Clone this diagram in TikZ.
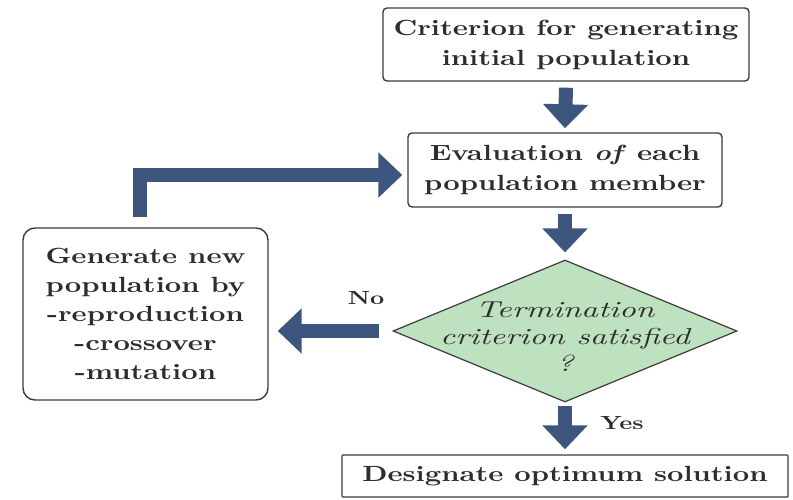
\documentclass[tikz,border=0pt]{standalone}
\usepackage{fontspec}
\usetikzlibrary{arrows.meta,shapes.geometric}
% widened Latin Modern faces
\newfontfamily\lmwide{lmroman10-regular.otf}[BoldFont=lmroman10-bold.otf, ItalicFont=lmroman10-italic.otf, BoldItalicFont=lmroman10-bolditalic.otf, FakeStretch=1.30]
\newfontfamily\lmwideit{lmroman10-regular.otf}[BoldFont=lmroman10-bold.otf, ItalicFont=lmroman10-italic.otf, FakeStretch=1.43]
\definecolor{arrowblue}{RGB}{62,86,126}
\definecolor{boxedge}{RGB}{60,60,60}
\definecolor{inkgray}{RGB}{45,45,45}
\definecolor{mint}{RGB}{190,225,192}
\tikzset{
  procbox/.style={draw=boxedge, line width=1.4pt, fill=white, rounded corners=4pt,
    text=inkgray, align=center, inner sep=0pt,
    font=\lmwide\fontsize{22}{30}\selectfont\bfseries},
  decision/.style={diamond, draw=boxedge, line width=1.2pt, fill=mint,
    inner sep=0pt, aspect=2.4},
  decisiontext/.style={text=inkgray, align=center, inner sep=0pt,
    font=\lmwideit\fontsize{23}{27}\selectfont\itshape},
  blockarrow/.style={draw=arrowblue, line width=14pt, line cap=butt,
    -{Triangle[width=44pt,length=24pt,fill=arrowblue]}},
  tag/.style={text=inkgray, font=\lmwide\fontsize{19}{24}\selectfont\bfseries}
}
\begin{document}
\begin{tikzpicture}[x=1pt,y=-1pt]
\useasboundingbox (0,0) rectangle (793,500);
% process boxes
\node[procbox, minimum width=366pt, minimum height=73pt] (init) at (566,44.5)
  {Criterion for generating\\initial population};
\node[procbox, minimum width=314pt, minimum height=74pt] (eval) at (565,170)
  {Evaluation \textit{of} each\\population member};
\node[procbox, rounded corners=12pt, minimum width=245pt, minimum height=172pt,
  font=\lmwide\fontsize{22}{29}\selectfont\bfseries] (gen) at (145.5,314)
  {Generate new\\population by\\-reproduction\\-crossover\\-mutation};
% decision diamond, with its text set on top
\node[decision, minimum width=344pt, minimum height=142pt] (term) at (565,331) {};
\node[decisiontext] (termtext) at ([yshift=-6pt]term.center)
  {Termination\\criterion satisfied\\?};
\node[procbox, rounded corners=1pt, minimum width=446pt, minimum height=42pt,
  font=\lmwide\fontsize{22}{28}\selectfont\bfseries] (best) at (565,476)
  {Designate optimum solution};
% connectors
\draw[blockarrow] ([yshift=-6pt]init.south) -- ([yshift=4pt]eval.north);
\draw[blockarrow] ([yshift=-6pt]eval.south) -- ([yshift=7pt]term.north);
\draw[blockarrow] ([yshift=-3pt]term.south) -- ([yshift=5pt]best.north);
\draw[blockarrow] ([xshift=-13pt]term.west) -- ([xshift=9pt]term.west -| gen.east);
\draw[blockarrow, line join=miter] ([xshift=-6pt,yshift=10pt]gen.north) |- ([xshift=-5pt,yshift=-5pt]eval.west);
% branch labels
\node[tag] (no) at (366,298) {No};
\node[tag] (yes) at (622,423) {Yes};
\end{tikzpicture}
\end{document}
